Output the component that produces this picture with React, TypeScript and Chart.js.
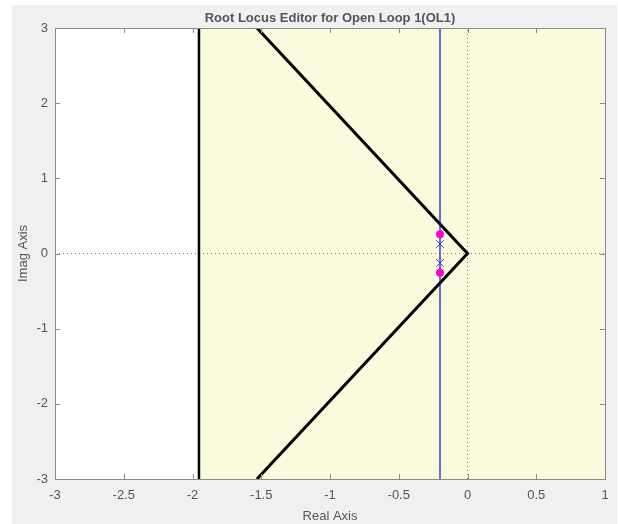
import React, { useEffect, useRef } from "react";
import { Chart, registerables } from "chart.js";

Chart.register(...registerables);

// ---- data ----
const titleText = "Root Locus Editor for Open Loop 1(OL1)";
const xAxisLabel = "Real Axis";
const yAxisLabel = "Imag Axis";
const xTickValues = [-3, -2.5, -2, -1.5, -1, -0.5, 0, 0.5, 1];
const yTickValues = [-3, -2, -1, 0, 1, 2, 3];
const xRange = [-3, 1];
const yRange = [-3, 3];

// shaded design region (right of the boundary line)
const regionBoundaryX = -1.953;
// damping-constraint wedge
const wedgeX = [-1.531, 0, -1.531];
const wedgeY = [3, 0, -3];
// root locus branch (vertical)
const locusX = [-0.2, -0.2];
const locusY = [-3, 3];
// open-loop poles (x markers)
const poleX = [-0.2, -0.2];
const poleY = [0.126, -0.126];
// closed-loop poles (magenta dots)
const clPoleX = [-0.2, -0.2];
const clPoleY = [0.255, -0.255];

const pts = (xs: number[], ys: number[]) => xs.map((x, i) => ({ x, y: ys[i] }));

const FONT = "'Liberation Sans', Arial, Helvetica, sans-serif";
const fmt = (v: any) => String(Math.round(Number(v) * 100) / 100);

const framePlugin = {
  id: "frame",
  beforeDraw(chart: any) {
    const { ctx, width, height, chartArea } = chart;
    ctx.save();
    ctx.fillStyle = "#ffffff";
    ctx.fillRect(0, 0, width, height);
    ctx.fillStyle = "#f0f0f0";
    ctx.fillRect(12, 5, width - 13, height - 5);
    ctx.fillStyle = "#ffffff";
    ctx.fillRect(chartArea.left, chartArea.top, chartArea.right - chartArea.left, chartArea.bottom - chartArea.top);
    ctx.restore();
  },
  afterDraw(chart: any) {
    const { ctx, chartArea } = chart;
    const xs = chart.scales.x;
    const ys = chart.scales.y;
    const L = 5;
    ctx.save();
    ctx.strokeStyle = "#8a8a8a";
    ctx.lineWidth = 1;
    ctx.beginPath();
    xs.ticks.forEach((t: any) => {
      const px = Math.round(xs.getPixelForValue(t.value)) + 0.5;
      ctx.moveTo(px, chartArea.bottom);
      ctx.lineTo(px, chartArea.bottom - L);
      ctx.moveTo(px, chartArea.top);
      ctx.lineTo(px, chartArea.top + L);
    });
    ys.ticks.forEach((t: any) => {
      const py = Math.round(ys.getPixelForValue(t.value)) + 0.5;
      ctx.moveTo(chartArea.left, py);
      ctx.lineTo(chartArea.left + L, py);
      ctx.moveTo(chartArea.right, py);
      ctx.lineTo(chartArea.right - L, py);
    });
    ctx.stroke();
    ctx.strokeRect(
      Math.round(chartArea.left) + 0.5,
      Math.round(chartArea.top) + 0.5,
      Math.round(chartArea.right - chartArea.left),
      Math.round(chartArea.bottom - chartArea.top)
    );
    ctx.restore();
  },
};

export default function App() {
  const ref = useRef<HTMLCanvasElement | null>(null);

  useEffect(() => {
    document.body.style.margin = "0";
    document.body.style.overflow = "hidden";
    const canvas = ref.current;
    if (!canvas) return;

    const chart = new Chart(canvas, {
      type: "scatter",
      data: {
        datasets: [
          {
            label: "closed-loop poles",
            data: pts(clPoleX, clPoleY),
            showLine: false,
            pointStyle: "circle",
            pointRadius: 4,
            backgroundColor: "#ff00cc",
            borderColor: "#ff00cc",
            borderWidth: 0,
          },
          {
            label: "open-loop poles",
            data: pts(poleX, poleY),
            showLine: false,
            pointStyle: "crossRot",
            pointRadius: 5.5,
            borderColor: "#2a3cff",
            borderWidth: 1,
          },
          {
            label: "locus",
            data: pts(locusX, locusY),
            showLine: true,
            pointRadius: 0,
            borderColor: "#0c0cc4",
            borderWidth: 1.2,
          },
          {
            label: "wedge",
            data: pts(wedgeX, wedgeY),
            showLine: true,
            pointRadius: 0,
            borderColor: "#000000",
            borderWidth: 3,
            borderJoinStyle: "miter",
          },
          {
            label: "boundary",
            data: pts([regionBoundaryX, regionBoundaryX], [yRange[0], yRange[1]]),
            showLine: true,
            pointRadius: 0,
            borderColor: "#000000",
            borderWidth: 2.5,
          },
          {
            label: "zero-h",
            data: pts([xRange[0], xRange[1]], [0, 0]),
            showLine: true,
            pointRadius: 0,
            borderColor: "#777777",
            borderWidth: 1,
            borderDash: [1, 3],
          },
          {
            label: "zero-v",
            data: pts([0, 0], [yRange[0], yRange[1]]),
            showLine: true,
            pointRadius: 0,
            borderColor: "#777777",
            borderWidth: 1,
            borderDash: [1, 3],
          },
          {
            label: "region",
            data: pts([regionBoundaryX, xRange[1]], [yRange[1], yRange[1]]),
            showLine: true,
            pointRadius: 0,
            borderWidth: 0,
            borderColor: "rgba(0,0,0,0)",
            backgroundColor: "#fafadc",
            fill: { value: yRange[0] },
          } as any,
        ],
      },
      options: {
        animation: false,
        responsive: false,
        devicePixelRatio: 1,
        layout: { padding: { left: 0, top: 0, right: 13, bottom: 0 } },
        plugins: {
          legend: { display: false },
          tooltip: { enabled: false },
          title: {
            display: true,
            text: titleText,
            fullSize: false,
            color: "#555555",
            font: { family: FONT, size: 13, weight: "bold" },
            padding: { top: 10.2, bottom: 2.2 },
          },
        },
        scales: {
          x: {
            type: "linear",
            position: "bottom",
            min: xRange[0],
            max: xRange[1],
            afterBuildTicks: (s: any) => {
              s.ticks = xTickValues.map((v) => ({ value: v }));
            },
            afterFit: (s: any) => {
              s.height = 45;
            },
            grid: { display: false, drawTicks: false },
            border: { display: false },
            ticks: {
              color: "#555555",
              font: { family: FONT, size: 13 },
              padding: 8.5,
              maxRotation: 0,
              autoSkip: false,
              callback: (v: any) => fmt(v),
            },
            title: {
              display: true,
              text: xAxisLabel,
              color: "#555555",
              font: { family: FONT, size: 13 },
              padding: { top: 0, bottom: 0.2 },
            },
          },
          y: {
            type: "linear",
            position: "left",
            min: yRange[0],
            max: yRange[1],
            afterBuildTicks: (s: any) => {
              s.ticks = yTickValues.map((v) => ({ value: v }));
            },
            afterFit: (s: any) => {
              s.width = 55;
            },
            grid: { display: false, drawTicks: false },
            border: { display: false },
            ticks: {
              color: "#555555",
              font: { family: FONT, size: 13 },
              padding: 7,
              autoSkip: false,
              callback: (v: any) => fmt(v),
            },
            title: {
              display: true,
              text: yAxisLabel,
              color: "#555555",
              font: { family: FONT, size: 13 },
              padding: { top: 15.2, bottom: 0 },
            },
          },
        },
      },
      plugins: [framePlugin],
    } as any);

    return () => chart.destroy();
  }, []);

  return (
    <div style={{ width: 618, height: 524 }}>
      <canvas ref={ref} width={618} height={524} style={{ display: "block", width: 618, height: 524 }} />
    </div>
  );
}
